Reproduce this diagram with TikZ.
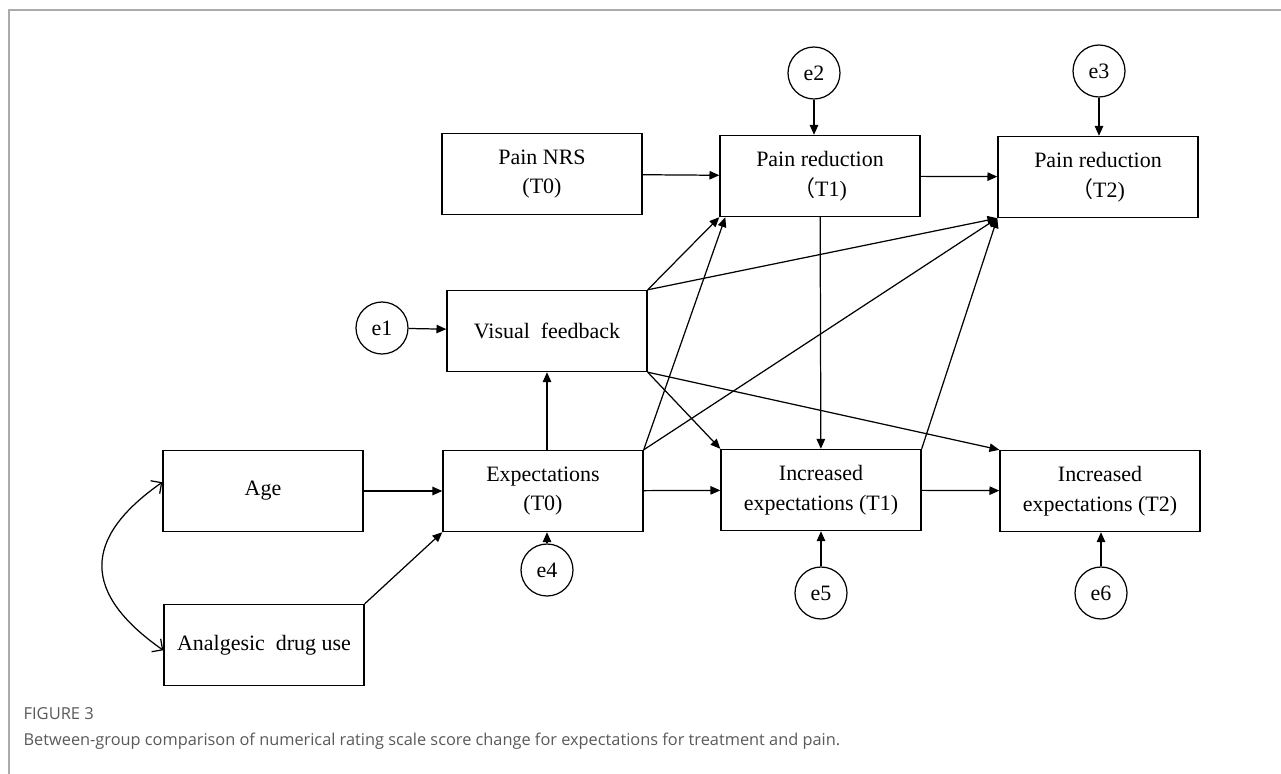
\documentclass[tikz,border=0pt]{standalone}
\usepackage{fontspec}
\setmainfont{Liberation Serif}
\newfontfamily\capfont{Open Sans}
\newfontfamily\cjk{Noto Sans CJK SC}
\usetikzlibrary{arrows.meta}

\definecolor{framegray}{HTML}{ABABAB}
\definecolor{capgray}{HTML}{5A5A5A}

\begin{document}
\begin{tikzpicture}[x=0.02cm,y=-0.02cm,-{Triangle[length=5.6pt,width=4.8pt]},line width=0.7pt,
                    box/.style={draw,line width=0.8pt,minimum width=4cm,minimum height=1.62cm,
                                align=center,font=\fontsize{12.5}{17}\selectfont},
                    err/.style={circle,draw,line width=0.7pt,minimum size=1.04cm,inner sep=0pt,
                                font=\fontsize{12.5}{15}\selectfont}]
  \useasboundingbox (0,0) rectangle (1281,774);
  \fill[white] (0,0) rectangle (1281,774);
  \draw[-,framegray,line width=0.9pt] (9,774) -- (9,10) -- (1281,10);

  % observed variables
  \node[box] (age)  at (263,491) {Age};
  \node[box] (drug) at (264,645) {Analgesic~ drug use};
  \node[box] (expA) at (543,491) {Expectations\\(T0)};
  \node[box] (vis)  at (547,331) {Visual~ feedback};
  \node[box] (nrs)  at (542,174) {Pain NRS\\(T0)};
  \node[box] (prA)  at (820,176) {Pain reduction\\{\cjk （}T1)};
  \node[box] (prB)  at (1098,177) {Pain reduction\\{\cjk （}T2)};
  \node[box] (ieA)  at (821,490) {Increased\\expectations (T1)};
  \node[box] (ieB)  at (1100,491) {Increased\\expectations (T2)};

  % error terms
  \node[err] (e1) at (382,328) {e1};
  \node[err] (e2) at (814,73) {e2};
  \node[err] (e3) at (1099,71) {e3};
  \node[err] (e4) at (547,570) {e4};
  \node[err] (e5) at (821,593) {e5};
  \node[err] (e6) at (1101,593) {e6};

  \draw (e1) -- (vis);
  \draw (e2) -- (e2 |- prA.north);
  \draw (e3) -- (e3 |- prB.north);
  \draw (e4) -- (e4 |- expA.south);
  \draw (e5) -- (ieA);
  \draw (e6) -- (e6 |- ieB.south);

  % paths
  \draw (age) -- (expA);
  \draw (drug.north east) -- (expA.south west);
  \draw (vis.south |- expA.north) -- (vis);
  \draw (nrs) -- (prA);
  \draw (prA) -- (prB);
  \draw (expA) -- (ieA);
  \draw (ieA) -- (ieB);
  \draw (prA) -- (ieA);
  \draw (vis.north east) -- (prA.south west);
  \draw (vis.north east) -- (prB.south west);
  \draw (vis.south east) -- (ieA.north west);
  \draw (vis.south east) -- (ieB.north west);
  \draw (expA.north east) -- ([xshift=0.12cm]prA.south west);
  \draw (expA.north east) -- (prB.south west);
  \draw (ieA.north east) -- (prB.south west);

  % covariance
  \draw[{Straight Barb[length=4.5pt,width=9pt]}-{Straight Barb[length=4.5pt,width=9pt]}]
    (age.175) to[out=215,in=145,looseness=1.5] (drug.183);

  % caption
  \node[anchor=base west,font=\capfont\fontsize{9.4}{11}\selectfont,text=capgray,inner sep=0pt]
    (fig) at (23,719) {FIGURE 3};
  \node[anchor=base west,font=\capfont\fontsize{9.3}{11}\selectfont,text=capgray,inner sep=0pt]
    (cap) at (23,745) {Between-group comparison of numerical rating scale score change for expectations for treatment and pain.};
\end{tikzpicture}
\end{document}
